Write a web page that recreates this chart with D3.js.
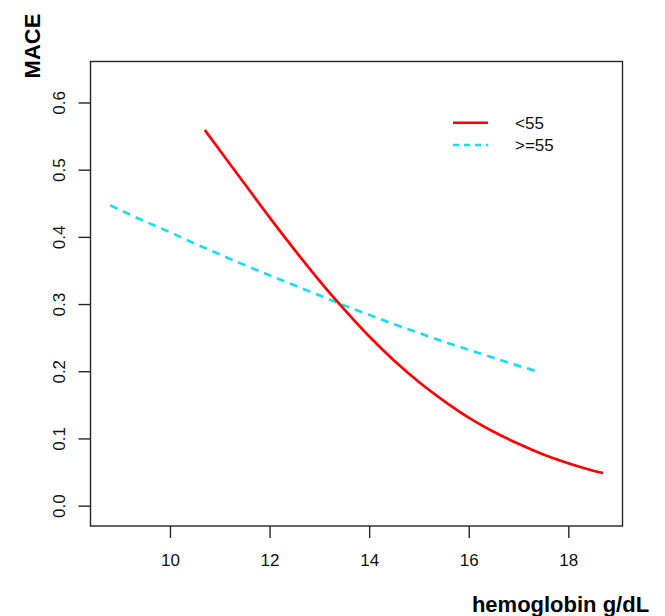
<!DOCTYPE html>
<html>
<head>
<meta charset="utf-8">
<script src="https://cdn.jsdelivr.net/npm/d3@7"></script>
<style>
html,body{margin:0;padding:0;background:#fff;}
svg{display:block;font-family:"Liberation Sans",Arial,sans-serif;}
</style>
</head>
<body>
<svg id="chart" width="665" height="616"></svg>
<script>
// ---- data ----
const redX = [10.7, 11, 11.5, 12, 12.5, 13, 13.5, 14, 14.5, 15, 15.5, 16, 16.5, 17, 17.5, 18, 18.5, 18.7];
const redY = [0.559, 0.529, 0.479, 0.429, 0.381, 0.335, 0.292, 0.252, 0.216, 0.184, 0.156, 0.131, 0.110, 0.092, 0.076, 0.063, 0.052, 0.0485];
const cyanX = [8.8, 9, 9.5, 10, 10.5, 11, 11.5, 12, 12.5, 13, 13.5, 14, 14.5, 15, 15.5, 16, 16.5, 17, 17.37];
const cyanY = [0.447, 0.440, 0.423, 0.407, 0.390, 0.374, 0.358, 0.343, 0.328, 0.313, 0.298, 0.284, 0.270, 0.257, 0.244, 0.232, 0.220, 0.208, 0.200];
const xTicks = [10, 12, 14, 16, 18];
const yTicks = [0.0, 0.1, 0.2, 0.3, 0.4, 0.5, 0.6];
const legendLabels = ["<55", ">=55"];
const xLabel = "hemoglobin g/dL";
const yLabel = "MACE";

// ---- layout ----
const box = {left: 90.5, right: 622.5, top: 61.5, bottom: 526};
const svg = d3.select("#chart");

const x = d3.scaleLinear().domain([8.404, 19.088]).range([box.left, box.right]);
const y = d3.scaleLinear().domain([-0.0303, 0.661]).range([box.bottom, box.top]);

const axisColor = "#262626";

// box
svg.append("rect")
  .attr("x", box.left).attr("y", box.top)
  .attr("width", box.right - box.left).attr("height", box.bottom - box.top)
  .attr("fill", "none").attr("stroke", axisColor).attr("stroke-width", 1.4);

// x axis
const xAxis = svg.append("g")
  .attr("transform", `translate(0,${box.bottom})`)
  .call(d3.axisBottom(x).tickValues(xTicks).tickSize(12).tickPadding(16).tickFormat(d3.format("d")));
xAxis.select(".domain").remove();
xAxis.selectAll("line").attr("stroke", axisColor).attr("stroke-width", 1.4);
xAxis.selectAll("text").attr("font-size", 17).attr("fill", "#111")
  .attr("font-family", "'Liberation Sans', Arial, sans-serif");

// y axis
const yAxis = svg.append("g")
  .attr("transform", `translate(${box.left},0)`)
  .call(d3.axisLeft(y).tickValues(yTicks).tickSize(12).tickFormat(d3.format(".1f")));
yAxis.select(".domain").remove();
yAxis.selectAll("line").attr("stroke", axisColor).attr("stroke-width", 1.4);
yAxis.selectAll("text")
  .attr("font-size", 17).attr("fill", "#111")
  .attr("font-family", "'Liberation Sans', Arial, sans-serif")
  .attr("x", null).attr("dy", null)
  .attr("text-anchor", "middle")
  .attr("transform", "translate(-26,0) rotate(-90)");

// lines
const line = d3.line().x(d => x(d[0])).y(d => y(d[1])).curve(d3.curveMonotoneX);
const redData = redX.map((v, i) => [v, redY[i]]);
const cyanData = cyanX.map((v, i) => [v, cyanY[i]]);

svg.append("path").datum(cyanData)
  .attr("d", line).attr("fill", "none")
  .attr("stroke", "#18dff0").attr("stroke-width", 2.7)
  .attr("stroke-dasharray", "8,6");

svg.append("path").datum(redData)
  .attr("d", line).attr("fill", "none")
  .attr("stroke", "#ff0000").attr("stroke-width", 2.7);

// legend
const legColors = ["#ff0000", "#18dff0"];
const legDash = [null, "6,5"];
const legY = [122.7, 145];
legendLabels.forEach((lab, i) => {
  svg.append("line")
    .attr("x1", 453).attr("x2", 488).attr("y1", legY[i]).attr("y2", legY[i])
    .attr("stroke", legColors[i]).attr("stroke-width", 2.6)
    .attr("stroke-dasharray", legDash[i]);
  svg.append("text")
    .attr("x", 515).attr("y", legY[i] + 6)
    .attr("font-size", 17).attr("fill", "#111")
    .text(lab);
});

// axis titles
svg.append("text")
  .attr("x", 560.5).attr("y", 612)
  .attr("text-anchor", "middle")
  .attr("font-size", 22).attr("font-weight", "bold").attr("fill", "#000")
  .text(xLabel);

svg.append("text")
  .attr("transform", "translate(40,46) rotate(-90)")
  .attr("text-anchor", "middle")
  .attr("font-size", 22).attr("font-weight", "bold").attr("fill", "#000")
  .text(yLabel);
</script>
</body>
</html>
